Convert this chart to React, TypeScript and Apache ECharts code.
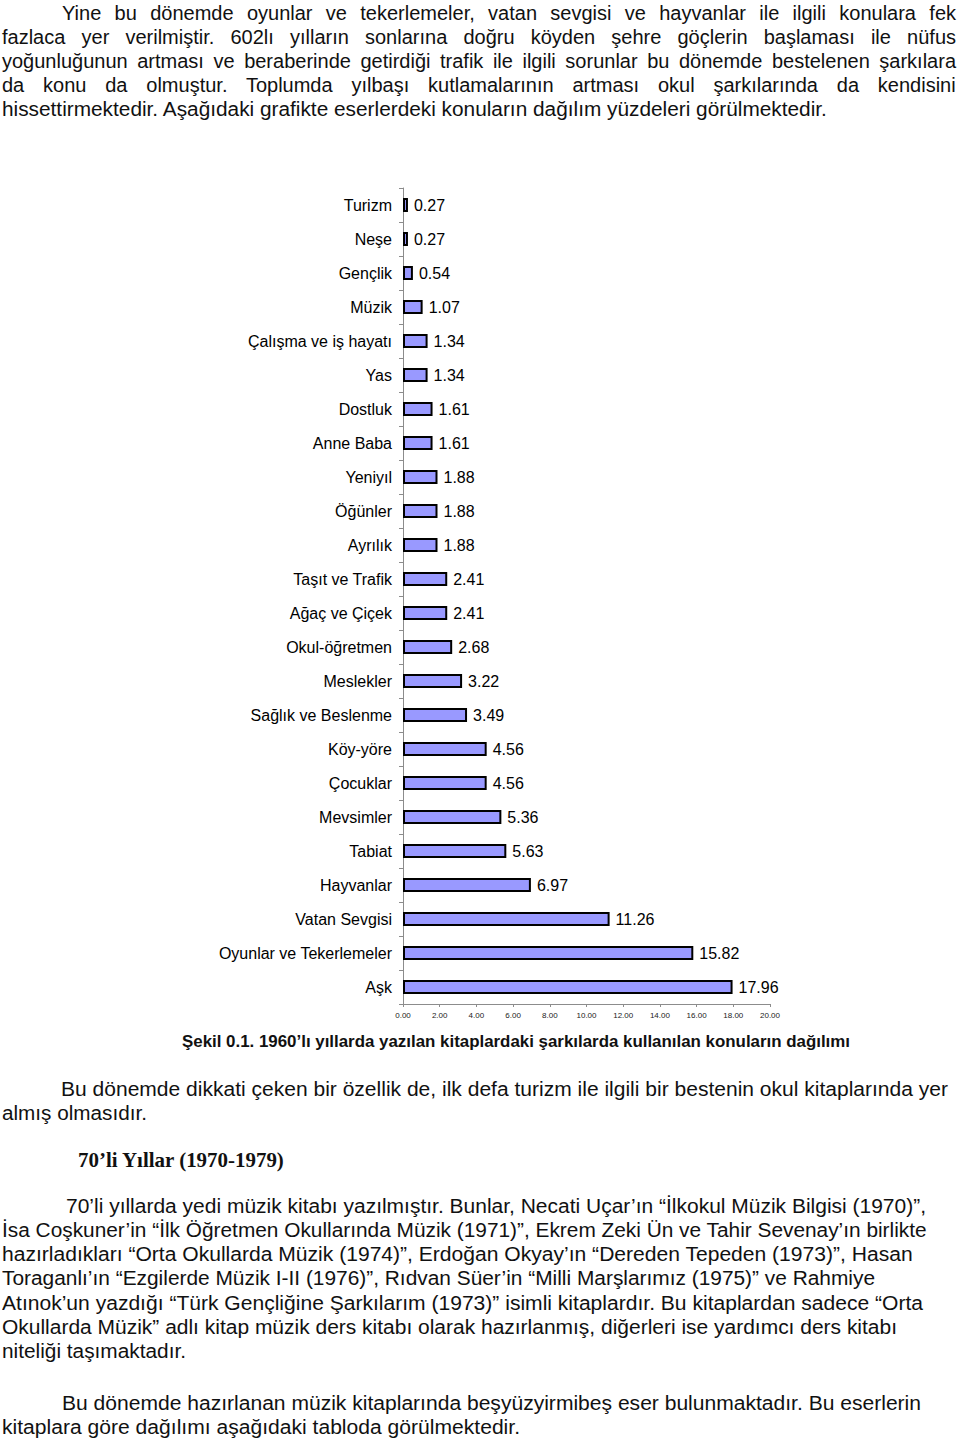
import React, { useEffect, useRef } from "react";
import * as echarts from "echarts";

// ---------- chart data ----------
const categories = [
  "Turizm",
  "Neşe",
  "Gençlik",
  "Müzik",
  "Çalışma ve iş hayatı",
  "Yas",
  "Dostluk",
  "Anne Baba",
  "Yeniyıl",
  "Öğünler",
  "Ayrılık",
  "Taşıt ve Trafik",
  "Ağaç ve Çiçek",
  "Okul-öğretmen",
  "Meslekler",
  "Sağlık ve Beslenme",
  "Köy-yöre",
  "Çocuklar",
  "Mevsimler",
  "Tabiat",
  "Hayvanlar",
  "Vatan Sevgisi",
  "Oyunlar ve Tekerlemeler",
  "Aşk",
];
const values = [
  0.27, 0.27, 0.54, 1.07, 1.34, 1.34, 1.61, 1.61, 1.88, 1.88, 1.88, 2.41, 2.41,
  2.68, 3.22, 3.49, 4.56, 4.56, 5.36, 5.63, 6.97, 11.26, 15.82, 17.96,
];
const axisMin = 0;
const axisMax = 20;
const axisStep = 2;

const captionText =
  "Şekil 0.1. 1960’lı yıllarda yazılan kitaplardaki şarkılarda kullanılan konuların dağılımı";
const headingText = "70’li Yıllar (1970-1979)";

// ---------- page text ----------
const SANS = "'Liberation Sans', Arial, Helvetica, sans-serif";
const SERIF = "'Liberation Serif', 'Times New Roman', serif";

type LineSpec = {
  t: string;
  x: number;
  r: number;
  b: number;
  j?: boolean;
  size?: number;
  bold?: boolean;
  serif?: boolean;
};

const lines: LineSpec[] = [
  { t: "Yine bu dönemde oyunlar ve tekerlemeler, vatan sevgisi ve hayvanlar ile ilgili konulara fek", x: 62, r: 956, b: 20, j: true, size: 20 },
  { t: "fazlaca yer verilmiştir. 602lı yılların sonlarına doğru köyden şehre göçlerin başlaması ile nüfus", x: 2, r: 956, b: 44, j: true, size: 20 },
  { t: "yoğunluğunun artması ve beraberinde getirdiği trafik ile ilgili sorunlar bu dönemde bestelenen şarkılara", x: 2, r: 956, b: 68, j: true, size: 20 },
  { t: "da konu da olmuştur. Toplumda yılbaşı kutlamalarının artması okul şarkılarında da kendisini", x: 2, r: 956, b: 92, j: true, size: 20 },
  { t: "hissettirmektedir. Aşağıdaki grafikte eserlerdeki konuların dağılım yüzdeleri görülmektedir.", x: 2, r: 828, b: 116, size: 20 },
  { t: captionText, x: 182, r: 850, b: 1047, size: 16.5, bold: true },
  { t: "Bu dönemde dikkati çeken bir özellik de, ilk defa turizm ile ilgili bir bestenin okul kitaplarında yer", x: 61, r: 948, b: 1096 },
  { t: "almış olmasıdır.", x: 2, r: 147, b: 1120 },
  { t: headingText, x: 78, r: 285, b: 1168, size: 21, bold: true, serif: true },
  { t: "70’li yıllarda yedi müzik kitabı yazılmıştır. Bunlar, Necati Uçar’ın “İlkokul Müzik Bilgisi (1970)”,", x: 66, r: 926, b: 1213 },
  { t: "İsa Coşkuner’in “İlk Öğretmen Okullarında Müzik (1971)”, Ekrem Zeki Ün ve Tahir Sevenay’ın birlikte", x: 2, r: 927, b: 1237 },
  { t: "hazırladıkları “Orta Okullarda Müzik (1974)”, Erdoğan Okyay’ın “Dereden Tepeden (1973)”, Hasan", x: 2, r: 913, b: 1261 },
  { t: "Toraganlı’ın “Ezgilerde Müzik I-II (1976)”, Rıdvan Süer’in “Milli Marşlarımız (1975)” ve Rahmiye", x: 2, r: 875, b: 1285 },
  { t: "Atınok’un yazdığı “Türk Gençliğine Şarkılarım (1973)” isimli kitaplardır. Bu kitaplardan sadece “Orta", x: 2, r: 923, b: 1310 },
  { t: "Okullarda Müzik” adlı kitap müzik ders kitabı olarak hazırlanmış, diğerleri ise yardımcı ders kitabı", x: 2, r: 897, b: 1334 },
  { t: "niteliği taşımaktadır.", x: 2, r: 186, b: 1358 },
  { t: "Bu dönemde hazırlanan müzik kitaplarında beşyüzyirmibeş eser bulunmaktadır. Bu eserlerin", x: 62, r: 921, b: 1410 },
  { t: "kitaplara göre dağılımı aşağıdaki tabloda görülmektedir.", x: 2, r: 520, b: 1434 },
];

let measureCtx: CanvasRenderingContext2D | null = null;
function measure(text: string, font: string): number {
  if (!measureCtx) measureCtx = document.createElement("canvas").getContext("2d");
  if (!measureCtx) return text.length * 10;
  measureCtx.font = font;
  return measureCtx.measureText(text).width;
}

function TextLine({ spec }: { spec: LineSpec }) {
  const size = spec.size ?? 20;
  const family = spec.serif ? SERIF : SANS;
  const weight = spec.bold ? "bold" : "normal";
  const font = `${weight} ${size}px ${family}`;
  const natural = measure(spec.t, font);
  const target = spec.r - spec.x;
  let scale = 1;
  let wordSpacing = 0;
  const spaces = (spec.t.match(/ /g) || []).length;
  if (spec.j && natural <= target && spaces > 0) {
    wordSpacing = (target - natural) / spaces;
  } else {
    scale = target / natural;
  }
  const top = spec.b - size * 0.845;
  return (
    <div
      style={{
        position: "absolute",
        left: spec.x,
        top,
        fontFamily: family,
        fontWeight: weight as any,
        fontSize: size,
        lineHeight: `${size}px`,
        whiteSpace: "pre",
        color: "#111",
        wordSpacing: `${wordSpacing}px`,
        transform: `scaleX(${scale})`,
        transformOrigin: "0 0",
      }}
    >
      {spec.t}
    </div>
  );
}

function Chart() {
  const ref = useRef<HTMLDivElement>(null);
  useEffect(() => {
    if (!ref.current) return;
    const chart = echarts.init(ref.current, null, { renderer: "svg" });
    chart.setOption({
      animation: false,
      textStyle: { fontFamily: SANS },
      grid: { left: 403, right: 190, top: 188, bottom: 438, containLabel: false },
      xAxis: {
        type: "value",
        min: axisMin,
        max: axisMax,
        interval: axisStep,
        axisLine: { show: true, lineStyle: { color: "#8c8c8c", width: 1 } },
        axisTick: { show: true, length: 3, lineStyle: { color: "#8c8c8c" } },
        splitLine: { show: false },
        axisLabel: {
          fontSize: 8,
          color: "#222",
          margin: 7,
          formatter: (v: number) => v.toFixed(2),
        },
      },
      yAxis: {
        type: "category",
        data: categories,
        inverse: true,
        axisLine: { show: true, lineStyle: { color: "#8c8c8c", width: 1 } },
        axisTick: { show: true, length: 4, lineStyle: { color: "#8c8c8c" } },
        axisLabel: { fontSize: 16, color: "#000", margin: 11 },
      },
      series: [
        {
          type: "bar",
          data: values,
          barWidth: 14,
          itemStyle: { color: "#9999ff", borderColor: "#000", borderWidth: 2 },
          label: {
            show: true,
            position: "right",
            distance: 6,
            fontSize: 16,
            color: "#000",
            formatter: (p: any) => Number(p.value).toFixed(2),
          },
        },
      ],
    });
    return () => chart.dispose();
  }, []);
  return (
    <div
      ref={ref}
      style={{ position: "absolute", left: 0, top: 0, width: 960, height: 1442 }}
    />
  );
}

export default function App() {
  return (
    <div
      style={{
        position: "absolute",
        left: 0,
        top: 0,
        width: 960,
        height: 1442,
        background: "#fff",
        overflow: "hidden",
      }}
    >
      <Chart />
      {lines.map((l, i) => (
        <TextLine key={i} spec={l} />
      ))}
    </div>
  );
}
